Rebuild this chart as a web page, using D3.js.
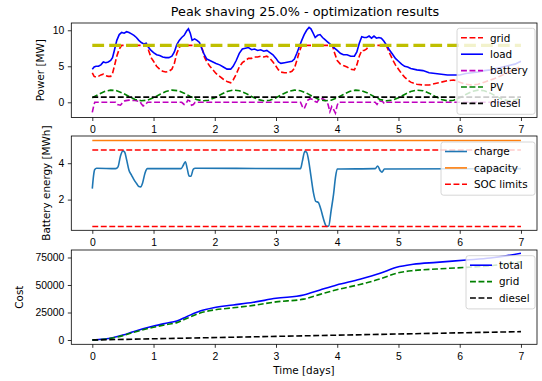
<!DOCTYPE html>
<html>
<head>
<meta charset="utf-8">
<script src="https://cdn.jsdelivr.net/npm/d3@7"></script>
<style>
  body { margin: 0; background: #fff; }
  svg { display: block; font-family: "DejaVu Sans", sans-serif; }
  .tick text { font-size: 10.4px; fill: #000; }
  .tick line { stroke: #000; stroke-width: 0.8; }
</style>
</head>
<body>
<svg id="chart" width="542" height="381"></svg>
<script>
// ---- data (days) ----
const xTicks = [0, 1, 2, 3, 4, 5, 6, 7];
const powerTicks = [0, 5, 10];
const energyTicks = [2, 4];
const costTicks = [0, 25000, 50000, 75000];

const loadMW = [[0,4.6],[0.03,4.9],[0.06,5.0],[0.1,5.0],[0.14,5.2],[0.18,5.6],[0.22,5.5],[0.26,5.6],[0.3,5.8],[0.33,6.2],[0.36,7.2],[0.4,8.6],[0.44,9.4],[0.48,9.7],[0.52,9.6],[0.56,9.8],[0.6,9.7],[0.64,9.5],[0.68,9.3],[0.72,9.0],[0.76,8.6],[0.8,8.3],[0.84,8.1],[0.88,8.2],[0.92,7.6],[0.96,7.2],[1.0,6.9],[1.05,6.6],[1.1,6.5],[1.15,6.3],[1.2,6.2],[1.25,6.2],[1.3,6.4],[1.34,7.0],[1.38,8.0],[1.42,8.6],[1.46,9.0],[1.5,9.3],[1.54,9.9],[1.57,10.2],[1.6,9.6],[1.63,8.6],[1.67,8.8],[1.71,8.6],[1.75,8.3],[1.79,7.4],[1.83,6.6],[1.87,6.0],[1.92,5.8],[1.97,5.6],[2.02,5.4],[2.08,5.2],[2.14,4.9],[2.2,4.6],[2.26,4.6],[2.3,5.0],[2.35,5.8],[2.4,6.8],[2.45,7.4],[2.5,7.5],[2.55,7.6],[2.6,7.3],[2.65,7.4],[2.7,7.2],[2.75,7.3],[2.8,7.1],[2.85,7.2],[2.9,6.9],[2.95,6.6],[3.0,6.1],[3.04,5.6],[3.08,5.4],[3.14,5.5],[3.2,5.6],[3.26,5.7],[3.3,6.0],[3.34,6.8],[3.38,7.7],[3.42,8.6],[3.46,9.4],[3.5,10.0],[3.54,10.4],[3.57,10.2],[3.6,9.7],[3.64,9.0],[3.68,9.3],[3.72,9.4],[3.76,9.0],[3.8,8.7],[3.84,8.4],[3.88,8.1],[3.92,7.8],[3.96,7.5],[4.0,7.2],[4.05,6.8],[4.1,6.6],[4.16,6.6],[4.22,6.4],[4.28,6.4],[4.32,7.0],[4.36,8.2],[4.4,9.1],[4.44,9.0],[4.48,9.0],[4.52,9.2],[4.56,8.9],[4.6,9.2],[4.64,8.9],[4.68,9.0],[4.72,8.9],[4.76,8.5],[4.8,8.0],[4.85,7.3],[4.9,6.7],[4.95,6.1],[5.0,5.7],[5.05,5.3],[5.1,5.0],[5.15,4.9],[5.2,4.7],[5.3,4.5],[5.4,4.4],[5.5,4.1],[5.6,4.0],[5.7,3.9],[5.8,3.8],[5.9,3.8],[6.0,3.8],[6.1,4.0],[6.2,4.1],[6.3,4.2],[6.4,4.4],[6.5,4.5],[6.6,4.7],[6.7,4.9],[6.8,5.1],[6.9,5.3],[7.0,5.7]];

const gridMW = [[0,4.1],[0.03,3.6],[0.06,3.5],[0.1,3.6],[0.14,3.8],[0.18,3.9],[0.22,3.7],[0.26,3.6],[0.3,3.6],[0.33,4.0],[0.36,5.0],[0.4,6.4],[0.44,7.4],[0.48,7.9],[0.9,7.9],[0.92,7.2],[0.96,6.2],[1.0,5.7],[1.05,5.0],[1.1,4.6],[1.15,4.3],[1.2,4.2],[1.25,4.3],[1.3,4.6],[1.34,5.4],[1.38,6.8],[1.42,7.6],[1.45,7.9],[1.78,7.9],[1.8,7.3],[1.83,6.3],[1.87,5.6],[1.92,5.0],[1.97,4.5],[2.02,4.0],[2.08,3.6],[2.14,3.2],[2.2,2.9],[2.26,2.7],[2.3,3.1],[2.35,3.9],[2.4,4.9],[2.45,5.5],[2.5,5.8],[2.55,6.1],[2.6,6.1],[2.65,6.3],[2.7,6.3],[2.75,6.4],[2.8,6.3],[2.85,6.4],[2.9,6.1],[2.95,5.6],[3.0,5.0],[3.04,4.5],[3.08,4.2],[3.14,4.1],[3.2,4.1],[3.26,4.3],[3.3,4.7],[3.34,5.8],[3.38,7.0],[3.42,7.9],[3.92,7.9],[3.95,7.0],[4.0,5.8],[4.05,5.3],[4.1,5.1],[4.16,4.9],[4.22,4.6],[4.28,4.5],[4.32,5.2],[4.36,6.4],[4.4,7.2],[4.44,7.2],[4.48,7.4],[4.52,7.9],[4.8,7.9],[4.85,6.9],[4.9,6.0],[4.95,5.2],[5.0,4.6],[5.05,4.0],[5.1,3.5],[5.15,3.1],[5.2,2.8],[5.3,2.5],[5.4,2.4],[5.5,2.4],[5.6,2.6],[5.7,2.8],[5.8,3.0],[5.9,3.1],[6.0,2.8],[6.1,2.5],[6.2,2.4],[6.3,2.5],[6.4,2.8],[6.5,3.1],[6.6,3.4],[6.7,3.8],[6.8,4.2],[6.9,4.6],[7.0,5.0]];

const batteryMW = [[0,-1.4],[0.02,-0.6],[0.04,0.0],[0.38,0.0],[0.41,-0.3],[0.46,-0.4],[0.5,0.0],[0.53,0.2],[0.6,0.3],[0.7,0.25],[0.78,0.1],[0.8,-0.2],[0.83,-0.5],[0.87,-0.3],[0.9,0.0],[1.46,0.0],[1.5,-0.3],[1.53,-0.2],[1.56,0.3],[1.59,0.2],[1.62,-0.4],[1.65,-0.3],[1.68,0.0],[3.4,0.0],[3.43,-0.6],[3.46,-0.9],[3.49,-0.3],[3.52,0.3],[3.56,0.5],[3.6,0.4],[3.64,0.1],[3.67,0.0],[3.7,0.4],[3.76,0.5],[3.82,0.2],[3.85,-0.3],[3.88,-1.3],[3.91,-0.6],[3.94,-1.0],[3.97,-1.5],[4.0,-0.4],[4.02,0.0],[4.62,0.0],[4.65,-0.3],[4.69,0.2],[4.74,0.1],[4.77,-0.2],[4.8,0.0],[7,0.0]];

const pvDays = d3.range(0, 71).map(i => i / 10);
const pvMW = [0.63,1.09,1.50,1.69,1.61,1.27,0.81,0.40,0.21,0.29,
  0.63,1.09,1.50,1.69,1.61,1.27,0.81,0.40,0.21,0.29,
  0.63,1.09,1.50,1.69,1.61,1.27,0.81,0.40,0.21,0.29,
  0.63,1.09,1.50,1.69,1.61,1.27,0.81,0.40,0.21,0.29,
  0.63,1.09,1.50,1.69,1.61,1.27,0.81,0.40,0.21,0.29,
  0.63,1.09,1.50,1.69,1.61,1.27,0.81,0.40,0.21,0.29,
  0.63,1.09,1.50,1.69,1.61,1.27,0.81,0.40,0.21,0.29,
  0.63];

const dieselMW = [[0,0.72],[7,0.72]];
const peakLimitMW = [[0,7.9],[7,7.9]];

const chargeMWh = [[0,2.6],[0.02,3.3],[0.04,3.65],[0.07,3.72],[0.38,3.7],[0.42,3.8],[0.46,4.4],[0.5,4.68],[0.53,4.6],[0.56,4.2],[0.6,3.6],[0.64,3.35],[0.68,3.1],[0.72,2.9],[0.76,2.72],[0.79,2.7],[0.82,2.9],[0.86,3.45],[0.9,3.7],[1.45,3.7],[1.48,3.85],[1.52,4.08],[1.55,3.7],[1.58,3.3],[1.61,3.28],[1.65,3.68],[1.68,3.72],[3.4,3.7],[3.43,4.1],[3.47,4.65],[3.5,4.6],[3.53,4.2],[3.57,3.3],[3.61,2.4],[3.65,1.9],[3.69,1.85],[3.73,1.5],[3.77,1.0],[3.81,0.6],[3.83,0.53],[3.86,0.55],[3.9,1.4],[3.94,2.3],[3.97,3.2],[4.0,3.68],[4.62,3.7],[4.66,3.85],[4.7,3.6],[4.73,3.5],[4.77,3.68],[7,3.7]];
const capacityMWh = [[0,5.25],[7,5.25]];
const socLowMWh = [[0,0.525],[7,0.525]];
const socHighMWh = [[0,4.725],[7,4.725]];

const costTotal = [[0,0],[0.33,2100],[0.5,4500],[0.67,7600],[1.0,12700],[1.2,15200],[1.38,17300],[1.54,21200],[1.76,26400],[1.98,29400],[2.3,31800],[2.63,34300],[3.0,37900],[3.45,40900],[3.72,45500],[3.99,50000],[4.37,55200],[4.7,60600],[4.97,66100],[5.24,68800],[5.62,70600],[6.11,72700],[6.5,74500],[7.0,78800]];
const costGrid = [[0,0],[0.33,1740],[0.5,3960],[0.67,6870],[1.0,11610],[1.2,13900],[1.38,15800],[1.54,19530],[1.76,24490],[1.98,27250],[2.3,29300],[2.63,31440],[3.0,34640],[3.45,37150],[3.72,41460],[3.99,45670],[4.37,50450],[4.7,55490],[4.97,60700],[5.24,63110],[5.62,64500],[6.11,66060],[6.5,67440],[7.0,71200]];
const costDiesel = [[0,0],[3,3300],[7,7600]];

// ---- layout ----
const left = 71.3, right = 537;
const lw = 1.6, dash = "5.9,2.6";

const svg = d3.select("#chart");

const x = d3.scaleLinear().domain([-0.343, 7.262]).range([left, right]);

svg.append("text")
  .attr("x", 305).attr("y", 15.5)
  .attr("text-anchor", "middle")
  .style("font-size", "12.8px")
  .text("Peak shaving 25.0% - optimization results");

function panel(top, bottom, domain, ticks, label, labelX) {
  const y = d3.scaleLinear().domain(domain).range([bottom, top]);
  const g = svg.append("g");

  g.append("g")
    .attr("transform", `translate(0,${bottom})`)
    .call(d3.axisBottom(x).tickValues(xTicks).tickFormat(d3.format("d"))
      .tickSize(3.5).tickPadding(3.5).tickSizeOuter(0))
    .call(a => a.select(".domain").remove())
    .selectAll("text").attr("dy", "0.85em");

  g.append("g")
    .attr("transform", `translate(${left},0)`)
    .call(d3.axisLeft(y).tickValues(ticks).tickFormat(d3.format("d"))
      .tickSize(3.5).tickPadding(3.5).tickSizeOuter(0))
    .call(a => a.select(".domain").remove());

  g.append("text")
    .attr("transform", `translate(${labelX},${(top + bottom) / 2}) rotate(-90)`)
    .attr("text-anchor", "middle")
    .style("font-size", "10.4px")
    .text(label);

  const lines = g.append("g");
  const box = g.append("rect")
    .attr("x", left).attr("y", top)
    .attr("width", right - left).attr("height", bottom - top)
    .attr("fill", "none").attr("stroke", "#000").attr("stroke-width", 0.8);
  return { y, g, lines };
}

function drawLine(p, data, color, width, dashes, curve) {
  const line = d3.line()
    .x(d => x(d[0]))
    .y(d => p.y(d[1]))
    .curve(curve || d3.curveLinear);
  p.lines.append("path")
    .attr("d", line(data))
    .attr("fill", "none")
    .attr("stroke", color)
    .attr("stroke-width", width)
    .attr("stroke-dasharray", dashes || null);
}

function legend(p, lx, ly, rx, items) {
  const h = items.length * 16.4 + 4;
  const lg = p.g.append("g");
  lg.append("rect")
    .attr("x", lx).attr("y", ly)
    .attr("width", rx - lx).attr("height", h)
    .attr("rx", 2.5)
    .attr("fill", "#fff").attr("fill-opacity", 0.8)
    .attr("stroke", "#ccc").attr("stroke-width", 0.8);
  items.forEach((it, i) => {
    const cy = ly + 9.5 + i * 16.4;
    lg.append("line")
      .attr("x1", lx + 4).attr("x2", lx + 26)
      .attr("y1", cy).attr("y2", cy)
      .attr("stroke", it.color).attr("stroke-width", lw)
      .attr("stroke-dasharray", it.dash ? dash : null);
    lg.append("text")
      .attr("x", lx + 33).attr("y", cy + 3.8)
      .style("font-size", "10.4px")
      .text(it.label);
  });
}

// ---- panel 1: power ----
const p1 = panel(23, 117.5, [-2.11, 11.01], powerTicks, "Power [MW]", 44);
const pv = pvDays.map((d, i) => [d, pvMW[i]]);
drawLine(p1, gridMW, "#ff0000", lw, dash);
drawLine(p1, loadMW, "#0000ff", lw);
drawLine(p1, batteryMW, "#bf00bf", lw, dash);
drawLine(p1, pv, "#008000", lw, dash);
drawLine(p1, dieselMW, "#000000", lw, dash);
drawLine(p1, peakLimitMW, "#bfbf00", 3.2, "11.8,5.1");
legend(p1, 457, 28.3, 535, [
  { label: "grid", color: "#ff0000", dash: true },
  { label: "load", color: "#0000ff" },
  { label: "battery", color: "#bf00bf", dash: true },
  { label: "PV", color: "#008000", dash: true },
  { label: "diesel", color: "#000000", dash: true }
]);

// ---- panel 2: battery energy ----
const p2 = panel(136, 230.3, [0.313, 5.495], energyTicks, "Battery energy [MWh]", 50);
drawLine(p2, chargeMWh, "#1f77b4", lw, null, d3.curveMonotoneX);
drawLine(p2, capacityMWh, "#ff7f0e", lw);
drawLine(p2, socLowMWh, "#ff0000", lw, dash);
drawLine(p2, socHighMWh, "#ff0000", lw, dash);
legend(p2, 441, 142, 535, [
  { label: "charge", color: "#1f77b4" },
  { label: "capacity", color: "#ff7f0e" },
  { label: "SOC limits", color: "#ff0000", dash: true }
]);

// ---- panel 3: cost ----
const p3 = panel(250, 344.3, [-3909, 81818], costTicks, "Cost", 23);
drawLine(p3, costTotal, "#0000ff", lw, null, d3.curveMonotoneX);
drawLine(p3, costGrid, "#008000", lw, dash, d3.curveMonotoneX);
drawLine(p3, costDiesel, "#000000", lw, dash);
legend(p3, 466, 255.7, 535, [
  { label: "total", color: "#0000ff" },
  { label: "grid", color: "#008000", dash: true },
  { label: "diesel", color: "#000000", dash: true }
]);

svg.append("text")
  .attr("x", 304).attr("y", 374)
  .attr("text-anchor", "middle")
  .style("font-size", "10.4px")
  .text("Time [days]");
</script>
</body>
</html>
